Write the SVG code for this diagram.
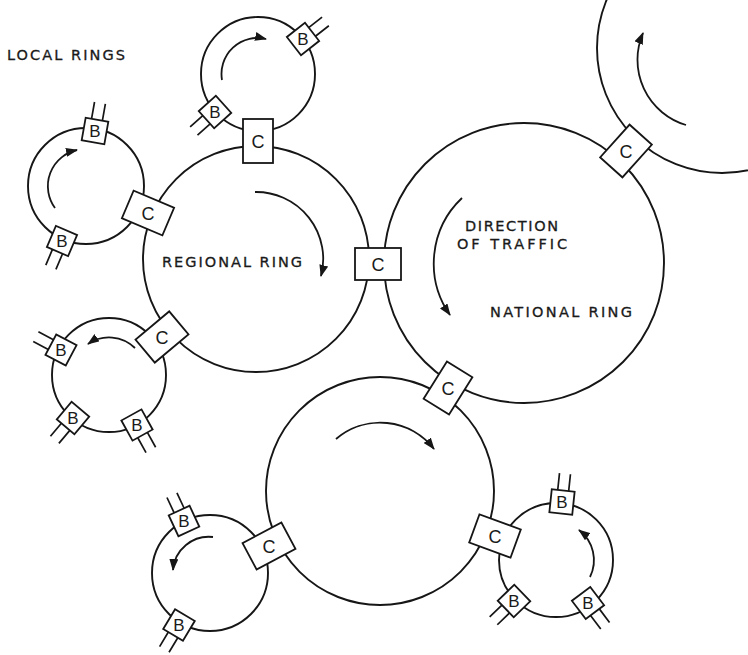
<svg xmlns="http://www.w3.org/2000/svg" width="748" height="655" viewBox="0 0 748 655">
  <style>
    .ring { fill: none; stroke: #161616; stroke-width: 1.9; }
    .box { fill: #ffffff; stroke: #161616; stroke-width: 1.8; }
    .lead { fill: none; stroke: #161616; stroke-width: 1.7; }
    .flow { fill: none; stroke: #161616; stroke-width: 1.8; marker-end: url(#ah); }
    .lbl { font-family: "DejaVu Sans", "Liberation Sans", sans-serif; font-size: 14.5px; fill: #1a1a1a; stroke: #1a1a1a; stroke-width: 0.3; }
    .cl { font-family: "Liberation Sans", "DejaVu Sans", sans-serif; font-size: 18px; fill: #1a1a1a; text-anchor: middle; }
    .bl { font-family: "Liberation Sans", "DejaVu Sans", sans-serif; font-size: 17px; fill: #1a1a1a; text-anchor: middle; }
  </style>
  <defs>
    <marker id="ah" viewBox="0 0 12 9" refX="11" refY="4.5" markerWidth="12" markerHeight="9" orient="auto" markerUnits="userSpaceOnUse">
      <path d="M0,0 L12,4.5 L0,9 z" fill="#161616"/>
    </marker>
    <!-- coupler box between two rings, long side along the line of centres -->
    <rect id="cbox" class="box" x="-22" y="-15" width="44" height="30"/>
    <!-- station box with its two leads pointing away from the ring -->
    <g id="bbox">
      <path class="lead" d="M-5.5,-11.5 V-28.5 M5.5,-11.5 V-28.5"/>
      <rect class="box" x="-11.5" y="-11.5" width="23" height="23"/>
    </g>
  </defs>

  <!-- rings -->
  <g id="rings">
    <circle id="national-ring" class="ring" cx="524" cy="263" r="140"/>
    <circle id="regional-ring" class="ring" cx="256" cy="259" r="113"/>
    <circle id="regional-ring-2" class="ring" cx="380" cy="491" r="114"/>
    <circle id="regional-ring-3" class="ring" cx="722" cy="48" r="125"/>
    <circle id="local-ring-1" class="ring" cx="258" cy="74" r="57"/>
    <circle id="local-ring-2" class="ring" cx="86" cy="186" r="58"/>
    <circle id="local-ring-3" class="ring" cx="109" cy="375" r="57"/>
    <circle id="local-ring-4" class="ring" cx="210" cy="573" r="58"/>
    <circle id="local-ring-5" class="ring" cx="556" cy="560" r="57"/>
  </g>

  <!-- direction of traffic arrows -->
  <g id="connectors">
    <path class="flow" d="M255,192 A67,67 0 0 1 321,276"/>
    <path class="flow" d="M462,198 A90,90 0 0 0 450,315"/>
    <path class="flow" d="M336,439 A68,68 0 0 1 434,449"/>
    <path class="flow" d="M686,125 A68,68 0 0 1 643,33"/>
    <path class="flow" d="M222,80 A36,36 0 0 1 266,39"/>
    <path class="flow" d="M55,208 A37,37 0 0 1 77,150"/>
    <path class="flow" d="M135,348 A37,37 0 0 0 88,344"/>
    <path class="flow" d="M213,537 A36,36 0 0 0 173,570"/>
    <path class="flow" d="M590,577 A38,38 0 0 0 579,530"/>
  </g>

  <!-- C couplers -->
  <g id="c1" transform="translate(258,141)"><use href="#cbox" transform="rotate(90)"/><text class="cl" y="6.5">C</text></g>
  <g id="c2" transform="translate(148,213)"><use href="#cbox" transform="rotate(23)"/><text class="cl" y="6.5">C</text></g>
  <g id="c3" transform="translate(162,337)"><use href="#cbox" transform="rotate(-40)"/><text class="cl" y="6.5">C</text></g>
  <g id="c4" transform="translate(378,264)"><rect class="box" x="-23" y="-16" width="46" height="32"/><text class="cl" y="6.5">C</text></g>
  <g id="c5" transform="translate(448,388)"><use href="#cbox" transform="rotate(-58)"/><text class="cl" y="6.5">C</text></g>
  <g id="c6" transform="translate(269,546)"><use href="#cbox" transform="rotate(-28)"/><text class="cl" y="6.5">C</text></g>
  <g id="c7" transform="translate(495,536)"><use href="#cbox" transform="rotate(20)"/><text class="cl" y="6.5">C</text></g>
  <g id="c8" transform="translate(626,151)"><use href="#cbox" transform="rotate(-48)"/><text class="cl" y="6.5">C</text></g>

  <!-- B stations -->
  <g id="b1" transform="translate(303,39)"><use href="#bbox" transform="rotate(52)"/><text class="bl" y="6">B</text></g>
  <g id="b2" transform="translate(215,112)"><use href="#bbox" transform="rotate(228)"/><text class="bl" y="6">B</text></g>
  <g id="b3" transform="translate(95,131)"><use href="#bbox" transform="rotate(10)"/><text class="bl" y="6">B</text></g>
  <g id="b4" transform="translate(62,241)"><use href="#bbox" transform="rotate(203)"/><text class="bl" y="6">B</text></g>
  <g id="b5" transform="translate(61,350)"><use href="#bbox" transform="rotate(298)"/><text class="bl" y="6">B</text></g>
  <g id="b6" transform="translate(73,418)"><use href="#bbox" transform="rotate(220)"/><text class="bl" y="6">B</text></g>
  <g id="b7" transform="translate(137,425)"><use href="#bbox" transform="rotate(151)"/><text class="bl" y="6">B</text></g>
  <g id="b8" transform="translate(184,521)"><use href="#bbox" transform="rotate(-25)"/><text class="bl" y="6">B</text></g>
  <g id="b9" transform="translate(179,625)"><use href="#bbox" transform="rotate(211)"/><text class="bl" y="6">B</text></g>
  <g id="b10" transform="translate(562,502)"><use href="#bbox" transform="rotate(6)"/><text class="bl" y="6">B</text></g>
  <g id="b11" transform="translate(514,601)"><use href="#bbox" transform="rotate(226)"/><text class="bl" y="6">B</text></g>
  <g id="b12" transform="translate(588,603)"><use href="#bbox" transform="rotate(143)"/><text class="bl" y="6">B</text></g>

  <!-- labels -->
  <g id="labels">
    <text class="lbl" x="7" y="60" textLength="118" lengthAdjust="spacing">LOCAL RINGS</text>
    <text class="lbl" x="162" y="267" textLength="140" lengthAdjust="spacing">REGIONAL RING</text>
    <text class="lbl" x="465" y="231" textLength="93" lengthAdjust="spacing">DIRECTION</text>
    <text class="lbl" x="457" y="248.5" textLength="110" lengthAdjust="spacing">OF TRAFFIC</text>
    <text class="lbl" x="490" y="317" textLength="142" lengthAdjust="spacing">NATIONAL RING</text>
  </g>
</svg>
